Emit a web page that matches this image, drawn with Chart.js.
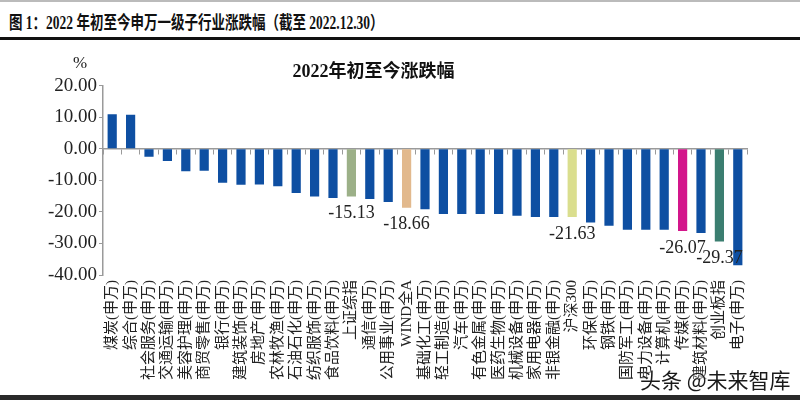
<!DOCTYPE html>
<html>
<head>
<meta charset="utf-8">
<script src="https://cdn.jsdelivr.net/npm/chart.js@4/dist/chart.umd.min.js"></script>
<style>
  body { margin: 0; background: #fff; }
  .page { position: relative; width: 800px; height: 400px; overflow: hidden; background: #fff; border-top: 2px solid #bbb; box-sizing: border-box; }
  .header { position: absolute; left: 0; top: 0; width: 800px; height: 35px; border-bottom: 3px solid #111; }
  .header span { position: absolute; left: 9px; top: 6px; font: bold 18px "Liberation Serif", "Noto Sans CJK SC", serif; color: #111; white-space: nowrap; transform: scaleX(0.75); transform-origin: left top; }
  .container_chart { position: absolute; left: 0; top: 38px; width: 800px; height: 356px; }
  .bottom_bar { position: absolute; left: 0; bottom: 0; width: 800px; height: 5px; background: #2a2a2a; }
  .mark { position: absolute; left: 640px; top: 362px; font: 21px "Noto Sans CJK SC", sans-serif; color: #1a1a1a; text-shadow: 0 0 3px #fff, 0 0 3px #fff; white-space: nowrap; }
</style>
</head>
<body>
<div class="page">
  <div class="header"><span>图 1：2022 年初至今申万一级子行业涨跌幅（截至 2022.12.30）</span></div>
  <div class="container_chart"><canvas id="myChart"></canvas></div>
  <div class="mark">头条 @未来智库</div>
  <div class="bottom_bar"></div>
</div>
<script>
const categorias = ['煤炭(申万)', '综合(申万)', '社会服务(申万)', '交通运输(申万)', '美容护理(申万)', '商贸零售(申万)',
    '银行(申万)', '建筑装饰(申万)', '房地产(申万)', '农林牧渔(申万)', '石油石化(申万)', '纺织服饰(申万)',
    '食品饮料(申万)', '上证综指', '通信(申万)', '公用事业(申万)', 'WIND全A', '基础化工(申万)', '轻工制造(申万)',
    '汽车(申万)', '有色金属(申万)', '医药生物(申万)', '机械设备(申万)', '家用电器(申万)', '非银金融(申万)',
    '沪深300', '环保(申万)', '钢铁(申万)', '国防军工(申万)', '电力设备(申万)', '计算机(申万)', '传媒(申万)',
    '建筑材料(申万)', '创业板指', '电子(申万)'];
const valores = [10.9, 10.8, -2.5, -3.9, -7.1, -7.0, -10.8, -11.4, -11.3, -11.9, -14.0, -15.1,
    -15.6, -15.13, -15.9, -16.9, -18.66, -19.2, -20.7, -20.7, -20.7, -20.7, -21.2, -21.6, -21.6,
    -21.63, -23.4, -24.4, -25.7, -25.7, -25.7, -26.07, -26.7, -29.37, -36.9];
const ticksY = [20, 10, 0, -10, -20, -30, -40];
const conEtiqueta = ['上证综指', 'WIND全A', '沪深300', '传媒(申万)', '创业板指'];

const colorBase = '#0e4fa2';
const colorEspecial = {
    '上证综指': '#9cb088',
    'WIND全A': '#e2b98d',
    '沪深300': '#dade8e',
    '传媒(申万)': '#d3168b',
    '创业板指': '#3b7e70'
};
const colores = categorias.map(c => colorEspecial[c] || colorBase);
const gris = '#9a9a9a';

// etiquetas bajo las barras destacadas y el "%" del eje
const extras = {
    id: 'extras',
    afterDatasetsDraw(chart) {
        const ctx = chart.ctx;
        const meta = chart.getDatasetMeta(0);
        ctx.save();
        ctx.fillStyle = '#222';
        ctx.font = '18px "Liberation Serif", serif';
        ctx.textAlign = 'center';
        ctx.textBaseline = 'top';
        categorias.forEach((c, i) => {
            if (!conEtiqueta.includes(c)) return;
            const bar = meta.data[i];
            ctx.fillText(valores[i].toFixed(2), bar.x, bar.y + 8);
        });
        const y = chart.scales.y;
        ctx.font = '17px "Liberation Serif", serif';
        ctx.textBaseline = 'middle';
        ctx.fillText('%', y.right - 23, chart.chartArea.top - 22);
        ctx.restore();
    }
};

const ctx = document.getElementById('myChart');

new Chart(ctx, {
    type: 'bar',
    data: {
        labels: categorias,
        datasets: [{
            label: '2022年初至今涨跌幅',
            data: valores,
            backgroundColor: colores,
            barPercentage: 0.5,
            categoryPercentage: 1.0,
            xAxisID: 'x'
        }]
    },
    options: {
        responsive: true,
        maintainAspectRatio: false,
        animation: false,
        layout: { padding: { top: 0, right: 53, bottom: 0, left: 0 } },
        plugins: {
            legend: { display: false },
            tooltip: { enabled: false },
            title: {
                display: true,
                text: '2022年初至今涨跌幅',
                color: '#111',
                font: { family: '"Liberation Serif", "Noto Sans CJK SC", serif', size: 18, weight: 'bold' },
                padding: { top: 22, bottom: 2 }
            }
        },
        scales: {
            x: {
                position: 'bottom',
                grid: { display: false, drawTicks: false },
                border: { display: false },
                ticks: {
                    autoSkip: false,
                    maxRotation: 90,
                    minRotation: 90,
                    padding: 5,
                    color: '#222',
                    font: { family: '"Liberation Serif", "Noto Sans CJK SC", serif', size: 15 }
                },
                afterFit(scale) { scale.height = 121; }
            },
            x2: {
                type: 'category',
                labels: categorias,
                position: { y: 0 },
                offset: true,
                grid: { offset: true, drawOnChartArea: false, tickLength: 5, color: gris },
                border: { color: gris, width: 1.5 },
                ticks: { display: false }
            },
            y: {
                min: -40,
                max: 20,
                afterBuildTicks(scale) { scale.ticks = ticksY.map(v => ({ value: v })); },
                grid: { drawOnChartArea: false, tickLength: 4, color: gris },
                border: { color: gris, width: 1.5 },
                ticks: {
                    padding: 2,
                    color: '#222',
                    font: { family: '"Liberation Serif", serif', size: 19 },
                    callback: v => Number(v).toFixed(2)
                },
                afterFit(scale) { scale.width = 103; }
            }
        }
    },
    plugins: [extras]
});
</script>
</body>
</html>
